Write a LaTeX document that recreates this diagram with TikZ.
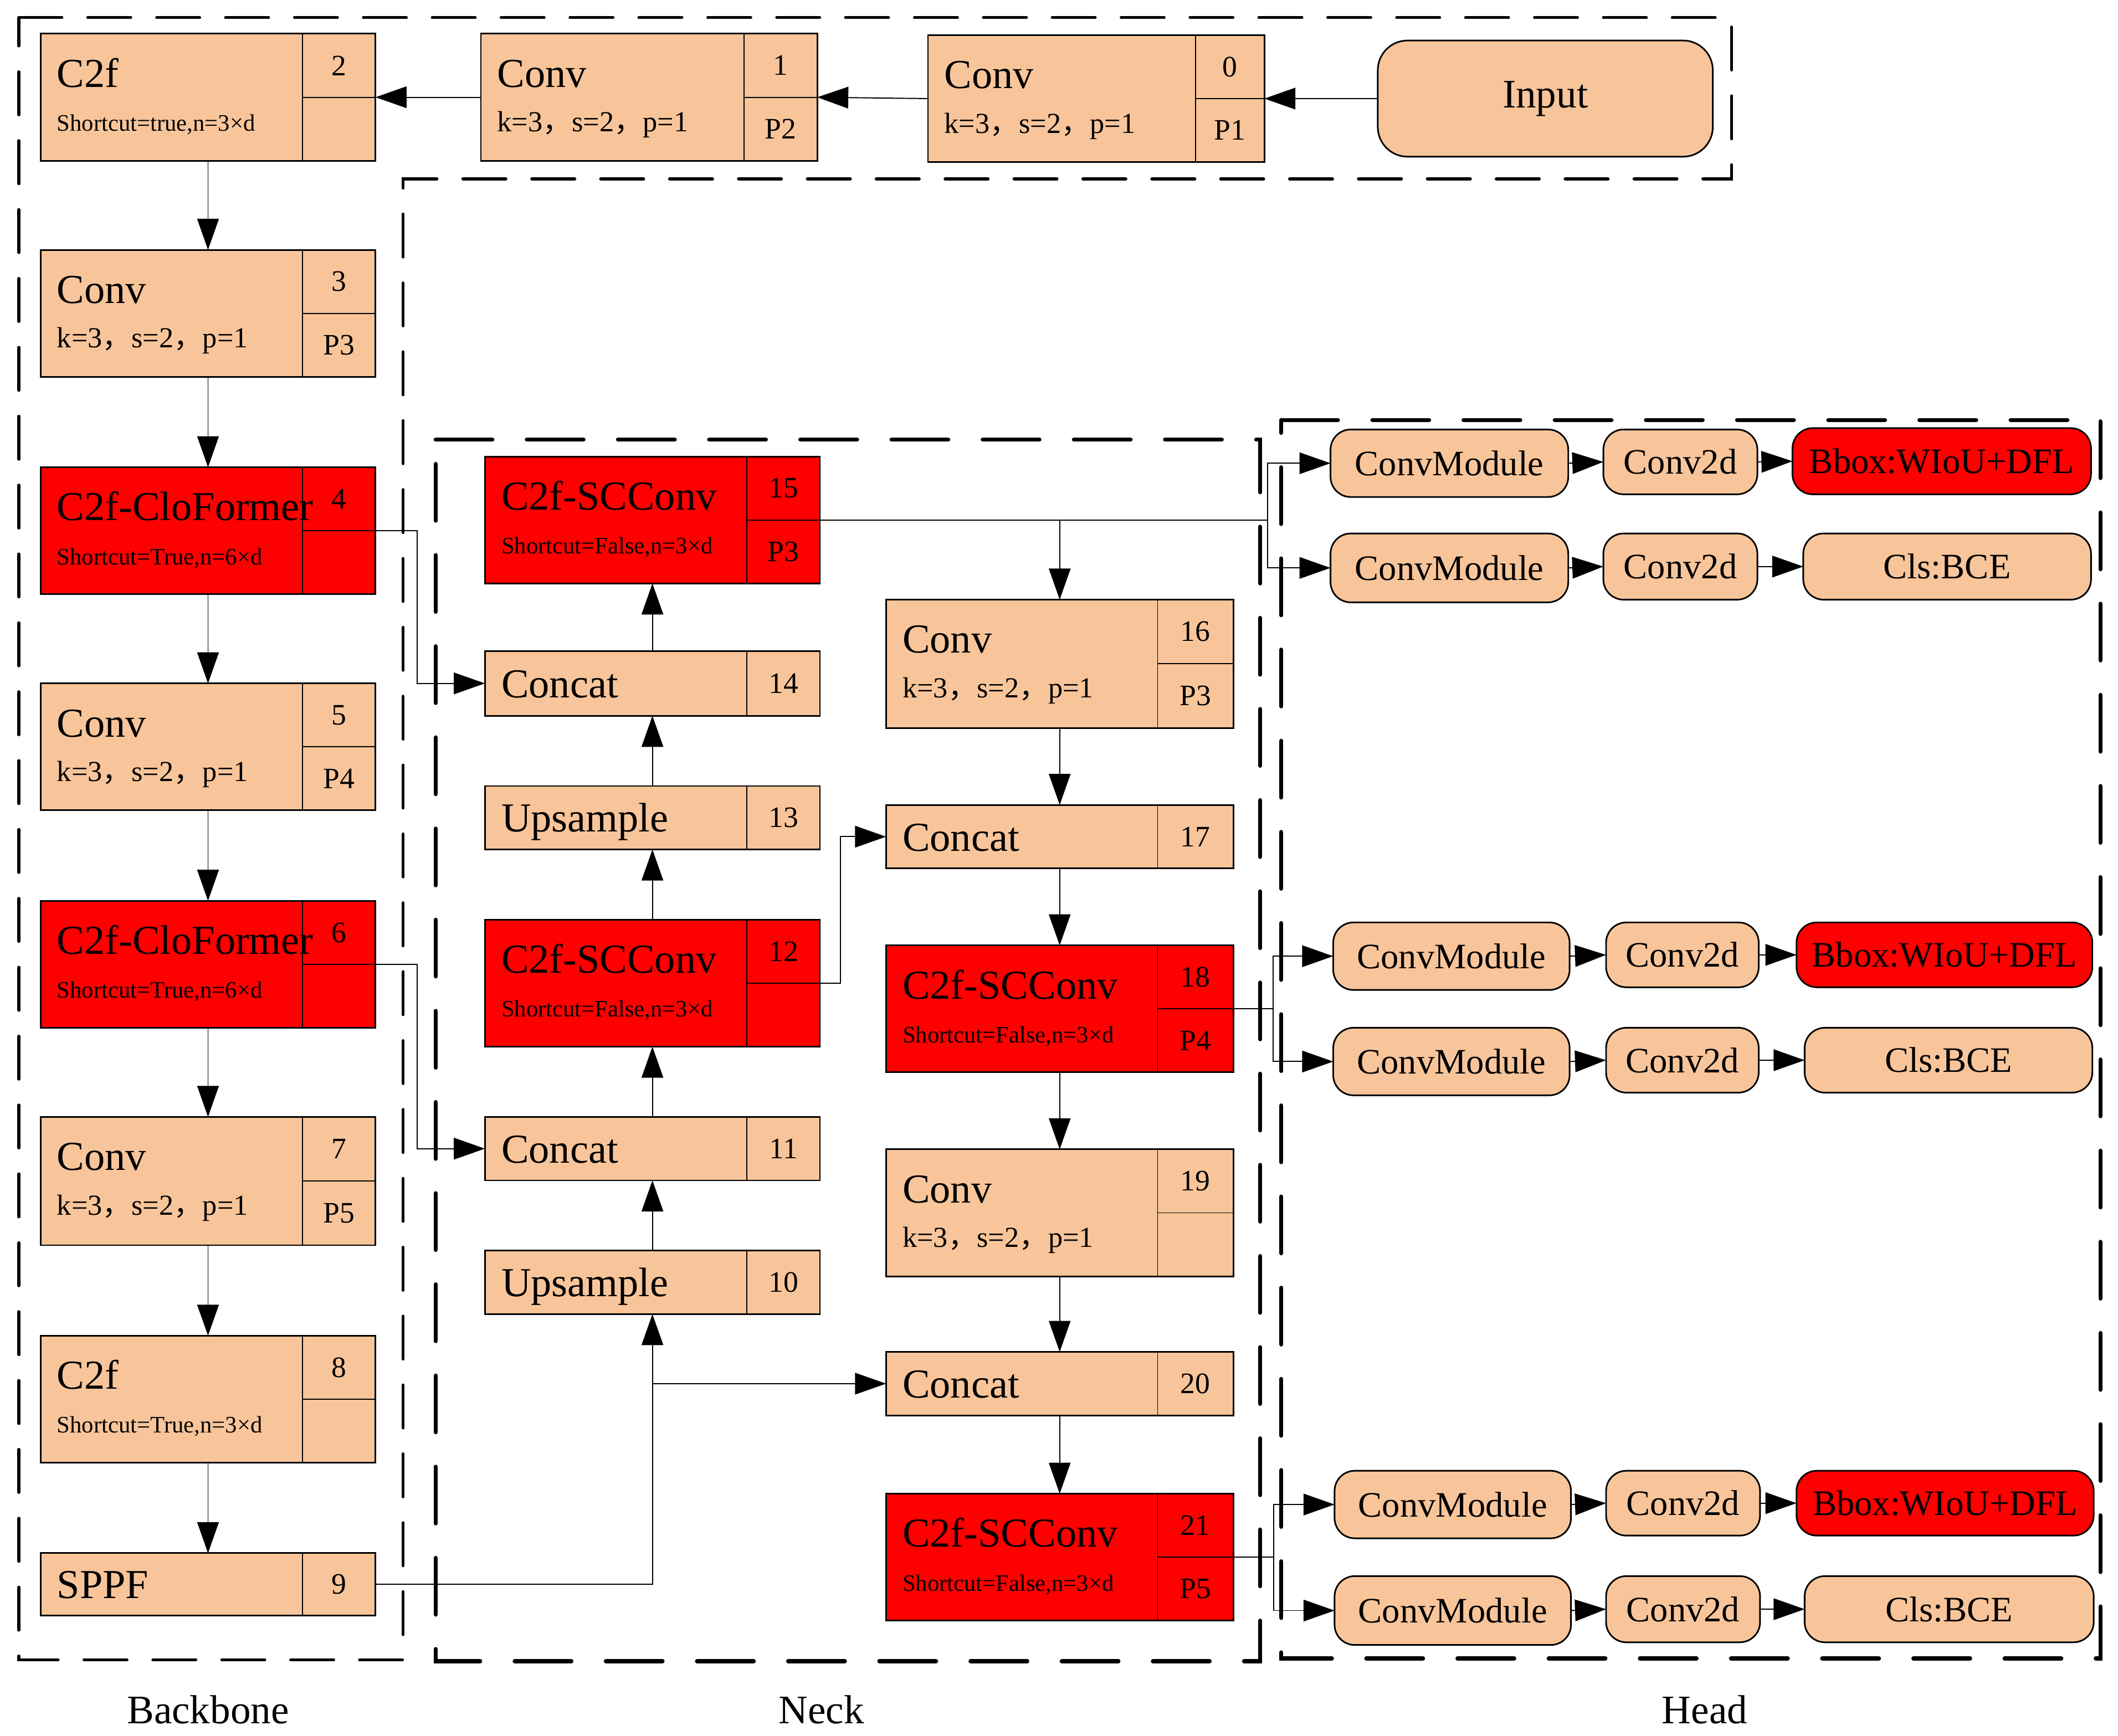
\documentclass[tikz,border=0pt]{standalone}
\usepackage{fontspec}
\setmainfont{Liberation Serif}
\newfontfamily\cjk{Noto Sans CJK SC}
\usetikzlibrary{arrows.meta,calc}
\definecolor{peach}{RGB}{248,197,155}
\definecolor{hot}{RGB}{255,0,0}
\newcommand{\fs}[1]{\fontsize{#1}{#1}\selectfont}
\newcommand{\kline}{k=3{\cjk ，}s=2{\cjk ，}p=1}
% two-row block: name x1 y1 x2 y2 xdiv style num p
\newcommand{\twobox}[9]{%
  \node[blk,#7,minimum width={#4-#2},minimum height={#5-#3}] (#1) at ({(#2+#4)/2},{(#3+#5)/2}) {};
  \draw[div] (#6,#3) -- (#6,#5);
  \draw[div] (#6,{(#3+#5)/2}) -- (#1.east);
  \node[numt] at ({(#6+#4)/2},{#3+(#5-#3)/4}) {#8};
  \node[numt] at ({(#6+#4)/2},{#3+3*(#5-#3)/4}) {#9};
}
% one-row block: name x1 y1 x2 y2 xdiv style num
\newcommand{\onebox}[8]{%
  \node[blk,#7,minimum width={#4-#2},minimum height={#5-#3}] (#1) at ({(#2+#4)/2},{(#3+#5)/2}) {};
  \draw[div] (#6,#3) -- (#6,#5);
  \node[numt] at ({(#6+#4)/2},{(#3+#5)/2}) {#8};
}
% rounded head block: name x1 y1 x2 y2 style text
\newcommand{\hblk}[7]{%
  \node[hbox,#6,minimum width={#4-#2},minimum height={#5-#3}] (#1) at ({(#2+#4)/2},{(#3+#5)/2}) {#7};
}
\begin{document}
\begin{tikzpicture}[x=1pt,y=-1pt,
  blk/.style={draw,line width=1.2pt,inner sep=0pt,outer sep=0pt,rectangle},
  pch/.style={fill=peach},
  rd/.style={fill=hot},
  div/.style={line width=0.8pt},
  ttl/.style={anchor=base west,inner sep=0pt,font=\fs{30.5}},
  subk/.style={anchor=base west,inner sep=0pt,font=\fs{21.5}},
  subs/.style={anchor=base west,inner sep=0pt,font=\fs{17.5}},
  numt/.style={inner sep=0pt,font=\fs{22}},
  conn/.style={line width=0.8pt},
  arr/.style={conn,-{Triangle[length=23pt,width=16pt]}},
  hbox/.style={draw,line width=1.2pt,rounded corners=15pt,inner sep=0pt,outer sep=0pt,font=\fs{26.5}},
  bbdash/.style={line width=2.2pt,line cap=round,dash pattern=on 31.8pt off 19.2pt},
  nkdash/.style={line width=3pt,line cap=round,dash pattern=on 42pt off 25.5pt},
  grp/.style={font=\fs{30},inner sep=0pt}
]
\useasboundingbox (0,0) rectangle (1568,1285);

% dashed groups
\draw[bbdash] (14,13) -- (1282,13) -- (1282,132.5) -- (298.5,132.5) -- (298.5,1229) -- (14,1229) -- cycle;
\draw[nkdash] (322.5,325.5) -- (933,325.5) -- (933,1230) -- (322.5,1230) -- cycle;
\draw[nkdash] (948.5,311) -- (1555,311) -- (1555,1228) -- (948.5,1228) -- cycle;

% top row
\node[hbox,pch,rounded corners=22pt,font=\fs{30},minimum width=248,minimum height=86] (in) at (1144,73) {Input};
\twobox{b0}{687}{26}{936}{120}{885}{pch}{0}{P1}
\twobox{b1}{356}{25}{605}{119}{551}{pch}{1}{P2}
\twobox{b2}{30}{25}{278}{119}{224}{pch}{2}{}

% backbone
\twobox{b3}{30}{185}{278}{279}{224}{pch}{3}{P3}
\twobox{b4}{30}{346}{278}{440}{224}{rd}{4}{}
\twobox{b5}{30}{506}{278}{600}{224}{pch}{5}{P4}
\twobox{b6}{30}{667}{278}{761}{224}{rd}{6}{}
\twobox{b7}{30}{827}{278}{922}{224}{pch}{7}{P5}
\twobox{b8}{30}{989}{278}{1083}{224}{pch}{8}{}
\onebox{b9}{30}{1150}{278}{1196}{224}{pch}{9}

% neck left column
\twobox{b15}{359}{338}{607}{432}{553}{rd}{15}{P3}
\onebox{b14}{359}{482}{607}{530}{553}{pch}{14}
\onebox{b13}{359}{582}{607}{629}{553}{pch}{13}
\twobox{b12}{359}{681}{607}{775}{553}{rd}{12}{}
\onebox{b11}{359}{827}{607}{874}{553}{pch}{11}
\onebox{b10}{359}{926}{607}{973}{553}{pch}{10}

% neck right column
\twobox{b16}{656}{444}{913}{539}{857}{pch}{16}{P3}
\onebox{b17}{656}{596}{913}{643}{857}{pch}{17}
\twobox{b18}{656}{700}{913}{794}{857}{rd}{18}{P4}
\twobox{b19}{656}{851}{913}{945}{857}{pch}{19}{}
\onebox{b20}{656}{1001}{913}{1048}{857}{pch}{20}
\twobox{b21}{656}{1106}{913}{1200}{857}{rd}{21}{P5}

% titles of two-row blocks
\node[ttl] at ([shift={(12,39.5)}]b0.north west) {Conv};
\node[subk] at ([shift={(12,72.5)}]b0.north west) {\kline};
\node[ttl] at ([shift={(12,39.5)}]b1.north west) {Conv};
\node[subk] at ([shift={(12,72.5)}]b1.north west) {\kline};
\node[ttl] at ([shift={(12,39.5)}]b2.north west) {C2f};
\node[subs] at ([shift={(12,72)}]b2.north west) {Shortcut=true,n=3×d};
\node[ttl] at ([shift={(12,39.5)}]b3.north west) {Conv};
\node[subk] at ([shift={(12,72.5)}]b3.north west) {\kline};
\node[ttl] at ([shift={(12,39.5)}]b4.north west) {C2f-CloFormer};
\node[subs] at ([shift={(12,72)}]b4.north west) {Shortcut=True,n=6×d};
\node[ttl] at ([shift={(12,39.5)}]b5.north west) {Conv};
\node[subk] at ([shift={(12,72.5)}]b5.north west) {\kline};
\node[ttl] at ([shift={(12,39.5)}]b6.north west) {C2f-CloFormer};
\node[subs] at ([shift={(12,72)}]b6.north west) {Shortcut=True,n=6×d};
\node[ttl] at ([shift={(12,39.5)}]b7.north west) {Conv};
\node[subk] at ([shift={(12,72.5)}]b7.north west) {\kline};
\node[ttl] at ([shift={(12,39.5)}]b8.north west) {C2f};
\node[subs] at ([shift={(12,72)}]b8.north west) {Shortcut=True,n=3×d};
\node[ttl] at ([shift={(12,39.5)}]b15.north west) {C2f-SCConv};
\node[subs] at ([shift={(12,72)}]b15.north west) {Shortcut=False,n=3×d};
\node[ttl] at ([shift={(12,39.5)}]b12.north west) {C2f-SCConv};
\node[subs] at ([shift={(12,72)}]b12.north west) {Shortcut=False,n=3×d};
\node[ttl] at ([shift={(12,39.5)}]b16.north west) {Conv};
\node[subk] at ([shift={(12,72.5)}]b16.north west) {\kline};
\node[ttl] at ([shift={(12,39.5)}]b18.north west) {C2f-SCConv};
\node[subs] at ([shift={(12,72)}]b18.north west) {Shortcut=False,n=3×d};
\node[ttl] at ([shift={(12,39.5)}]b19.north west) {Conv};
\node[subk] at ([shift={(12,72.5)}]b19.north west) {\kline};
\node[ttl] at ([shift={(12,39.5)}]b21.north west) {C2f-SCConv};
\node[subs] at ([shift={(12,72)}]b21.north west) {Shortcut=False,n=3×d};

% titles of one-row blocks
\node[ttl] at ([shift={(12,10.5)}]b9.west) {SPPF};
\node[ttl] at ([shift={(12,10.5)}]b14.west) {Concat};
\node[ttl] at ([shift={(12,10.5)}]b13.west) {Upsample};
\node[ttl] at ([shift={(12,10.5)}]b11.west) {Concat};
\node[ttl] at ([shift={(12,10.5)}]b10.west) {Upsample};
\node[ttl] at ([shift={(12,10.5)}]b17.west) {Concat};
\node[ttl] at ([shift={(12,10.5)}]b20.west) {Concat};

% head
\hblk{cm1}{985}{318}{1161}{368}{pch}{ConvModule}
\hblk{cd1}{1187}{318}{1301}{366}{pch}{Conv2d}
\hblk{bb1}{1327}{317}{1548}{366}{rd}{Bbox:WIoU+DFL}
\hblk{cm2}{985}{395}{1161}{446}{pch}{ConvModule}
\hblk{cd2}{1187}{395}{1301}{444}{pch}{Conv2d}
\hblk{cl2}{1335}{395}{1548}{444}{pch}{Cls:BCE}
\hblk{cm3}{987}{683}{1162}{733}{pch}{ConvModule}
\hblk{cd3}{1189}{683}{1302}{731}{pch}{Conv2d}
\hblk{bb3}{1330}{683}{1549}{731}{rd}{Bbox:WIoU+DFL}
\hblk{cm4}{987}{761}{1162}{811}{pch}{ConvModule}
\hblk{cd4}{1189}{761}{1302}{809}{pch}{Conv2d}
\hblk{cl4}{1336}{761}{1549}{809}{pch}{Cls:BCE}
\hblk{cm5}{988}{1089}{1163}{1139}{pch}{ConvModule}
\hblk{cd5}{1189}{1089}{1303}{1137}{pch}{Conv2d}
\hblk{bb5}{1330}{1089}{1550}{1137}{rd}{Bbox:WIoU+DFL}
\hblk{cm6}{988}{1167}{1163}{1218}{pch}{ConvModule}
\hblk{cd6}{1189}{1167}{1303}{1216}{pch}{Conv2d}
\hblk{cl6}{1336}{1167}{1550}{1216}{pch}{Cls:BCE}

% group labels
\node[grp] (lbb) at (154,1266) {Backbone};
\node[grp] (lnk) at (608,1266) {Neck};
\node[grp] (lhd) at (1262,1266) {Head};

% connectors: top row
\draw[arr] (in.west) -- (b0.east);
\draw[arr] (b0.west) -- (b1.east);
\draw[arr] (b1.west) -- (b2.east);

% backbone chain
\draw[arr] (b2.south) -- (b3.north);
\draw[arr] (b3.south) -- (b4.north);
\draw[arr] (b4.south) -- (b5.north);
\draw[arr] (b5.south) -- (b6.north);
\draw[arr] (b6.south) -- (b7.north);
\draw[arr] (b7.south) -- (b8.north);
\draw[arr] (b8.south) -- (b9.north);

% skip connections
\coordinate (kx) at (309,0);
\draw[arr] (b4.east) -- (b4.east -| kx) |- (b14.west);
\draw[arr] (b6.east) -- (b6.east -| kx) |- (b11.west);
\coordinate (kx2) at (622,0);
\draw[arr] (b12.east) -- (b12.east -| kx2) |- (b17.west);
\draw[arr] (b9.east) -| (b10.south);
\draw[arr] (b10.south |- b20.west) -- (b20.west);

% neck up path
\draw[arr] (b10.north) -- (b11.south);
\draw[arr] (b11.north) -- (b12.south);
\draw[arr] (b12.north) -- (b13.south);
\draw[arr] (b13.north) -- (b14.south);
\draw[arr] (b14.north) -- (b15.south);

% neck down path
\coordinate (s15) at (938.5,385);
\draw[conn] (b15.east) -- (s15);
\draw[arr] (b16.north |- b15.east) -- (b16.north);
\draw[arr] (b16.south) -- (b17.north);
\draw[arr] (b17.south) -- (b18.north);
\draw[arr] (b18.south) -- (b19.north);
\draw[arr] (b19.south) -- (b20.north);
\draw[arr] (b20.south) -- (b21.north);

% to head
\draw[arr] (s15) |- (cm1.west);
\draw[arr] (s15) |- (cm2.west);
\coordinate (s18) at (942.5,747);
\draw[conn] (b18.east) -- (s18);
\draw[arr] (s18) |- (cm3.west);
\draw[arr] (s18) |- (cm4.west);
\coordinate (s21) at (943,1153);
\draw[conn] (b21.east) -- (s21);
\draw[arr] (s21) |- (cm5.west);
\draw[arr] (s21) |- (cm6.west);

% head rows
\draw[arr] (cm1.east) -- (cd1.west);
\draw[arr] (cd1.east) -- (bb1.west);
\draw[arr] (cm2.east) -- (cd2.west);
\draw[arr] (cd2.east) -- (cl2.west);
\draw[arr] (cm3.east) -- (cd3.west);
\draw[arr] (cd3.east) -- (bb3.west);
\draw[arr] (cm4.east) -- (cd4.west);
\draw[arr] (cd4.east) -- (cl4.west);
\draw[arr] (cm5.east) -- (cd5.west);
\draw[arr] (cd5.east) -- (bb5.west);
\draw[arr] (cm6.east) -- (cd6.west);
\draw[arr] (cd6.east) -- (cl6.west);
\end{tikzpicture}
\end{document}
